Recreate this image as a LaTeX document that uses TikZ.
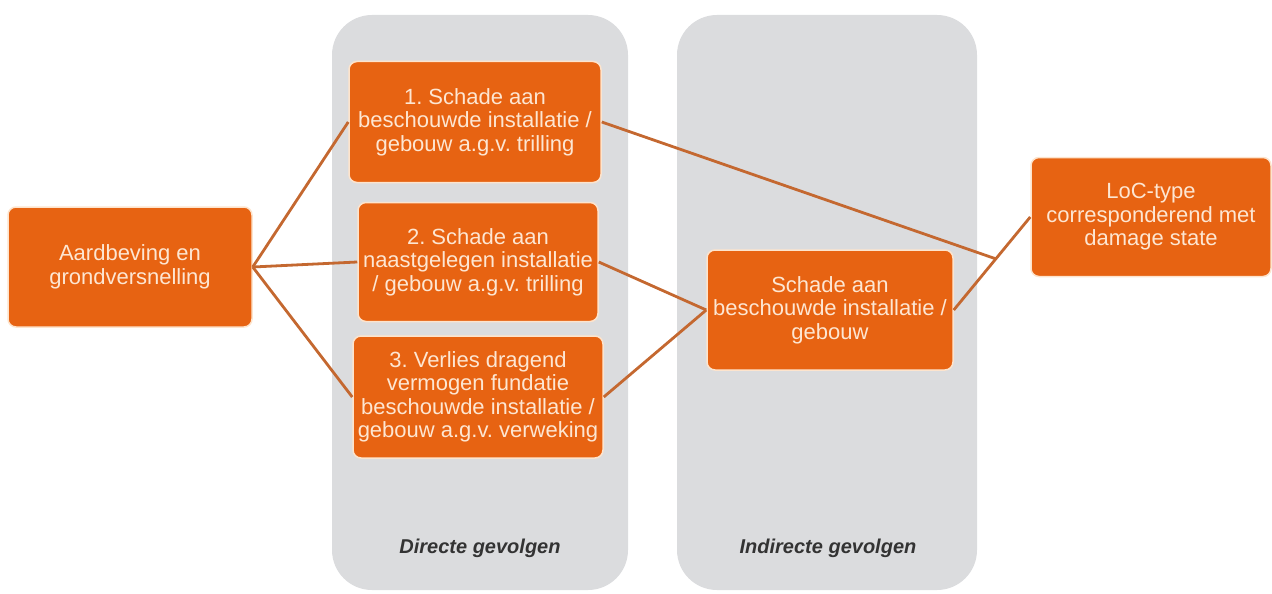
\documentclass[tikz,border=0pt]{standalone}
\usepackage{fontspec}
\setmainfont{Liberation Sans}
\usetikzlibrary{calc}
\definecolor{oranje}{RGB}{231,99,18}
\definecolor{rand}{RGB}{253,228,205}
\definecolor{lijn}{RGB}{196,104,48}
\definecolor{paneel}{RGB}{219,220,222}
\definecolor{tekst}{RGB}{253,230,210}
\definecolor{donker}{RGB}{51,51,51}
\frenchspacing
\begin{document}
\begin{tikzpicture}[x=1pt,y=-1pt,
    blok/.style={draw=rand,line width=1.5pt,fill=oranje,rounded corners=8pt,
      text=tekst,align=center,inner sep=0pt,
      font=\fontsize{22}{23.5}\selectfont},
    kop/.style={text=donker,font=\fontsize{20}{22}\selectfont\bfseries\itshape},
    verbinding/.style={lijn,line width=2.8pt}]
      \useasboundingbox (0,0) rectangle (1272,594);
      % panelen
      \fill[paneel,rounded corners=40pt] (332,15) rectangle (628,590);
      \fill[paneel,rounded corners=40pt] (677,15) rectangle (977,590);
      \node[kop] (direct) at (480,548) {Directe gevolgen};
      \node[kop] (indirect) at (828,548) {Indirecte gevolgen};
      % blokken
      \node[blok,minimum width=244pt,minimum height=120pt] (aardbeving) at (130,267)
        {Aardbeving en\\grondversnelling};
      \node[blok,minimum width=252pt,minimum height=121pt] (schade1) at (475,122)
        {1. Schade aan\\beschouwde installatie /\\gebouw a.g.v. trilling};
      \node[blok,minimum width=240pt,minimum height=119pt] (schade2) at (478,262)
        {2. Schade aan\\naastgelegen installatie\\/ gebouw a.g.v. trilling};
      \node[blok,minimum width=250pt,minimum height=122pt] (verlies) at (478,397)
        {3. Verlies dragend\\vermogen fundatie\\beschouwde installatie /\\gebouw a.g.v. verweking};
      \node[blok,minimum width=246pt,minimum height=120pt] (schade) at (830,310)
        {Schade aan\\beschouwde installatie /\\gebouw};
      \node[blok,minimum width=240pt,minimum height=119pt] (loc) at (1151,217)
        {LoC-type\\corresponderend met\\damage state};
      \coordinate (knik) at ($(schade.east)!0.55!(loc.west)$);
      % verbindingen
      \draw[verbinding] (aardbeving.east) -- (schade1.west);
      \draw[verbinding] (aardbeving.east) -- (schade2.west);
      \draw[verbinding] (aardbeving.east) -- (verlies.west);
      \draw[verbinding] (schade2.east) -- (schade.west);
      \draw[verbinding] (verlies.east) -- (schade.west);
      \draw[verbinding] (schade1.east) -- (knik);
      \draw[verbinding] (schade.east) -- (loc.west);
\end{tikzpicture}
\end{document}
